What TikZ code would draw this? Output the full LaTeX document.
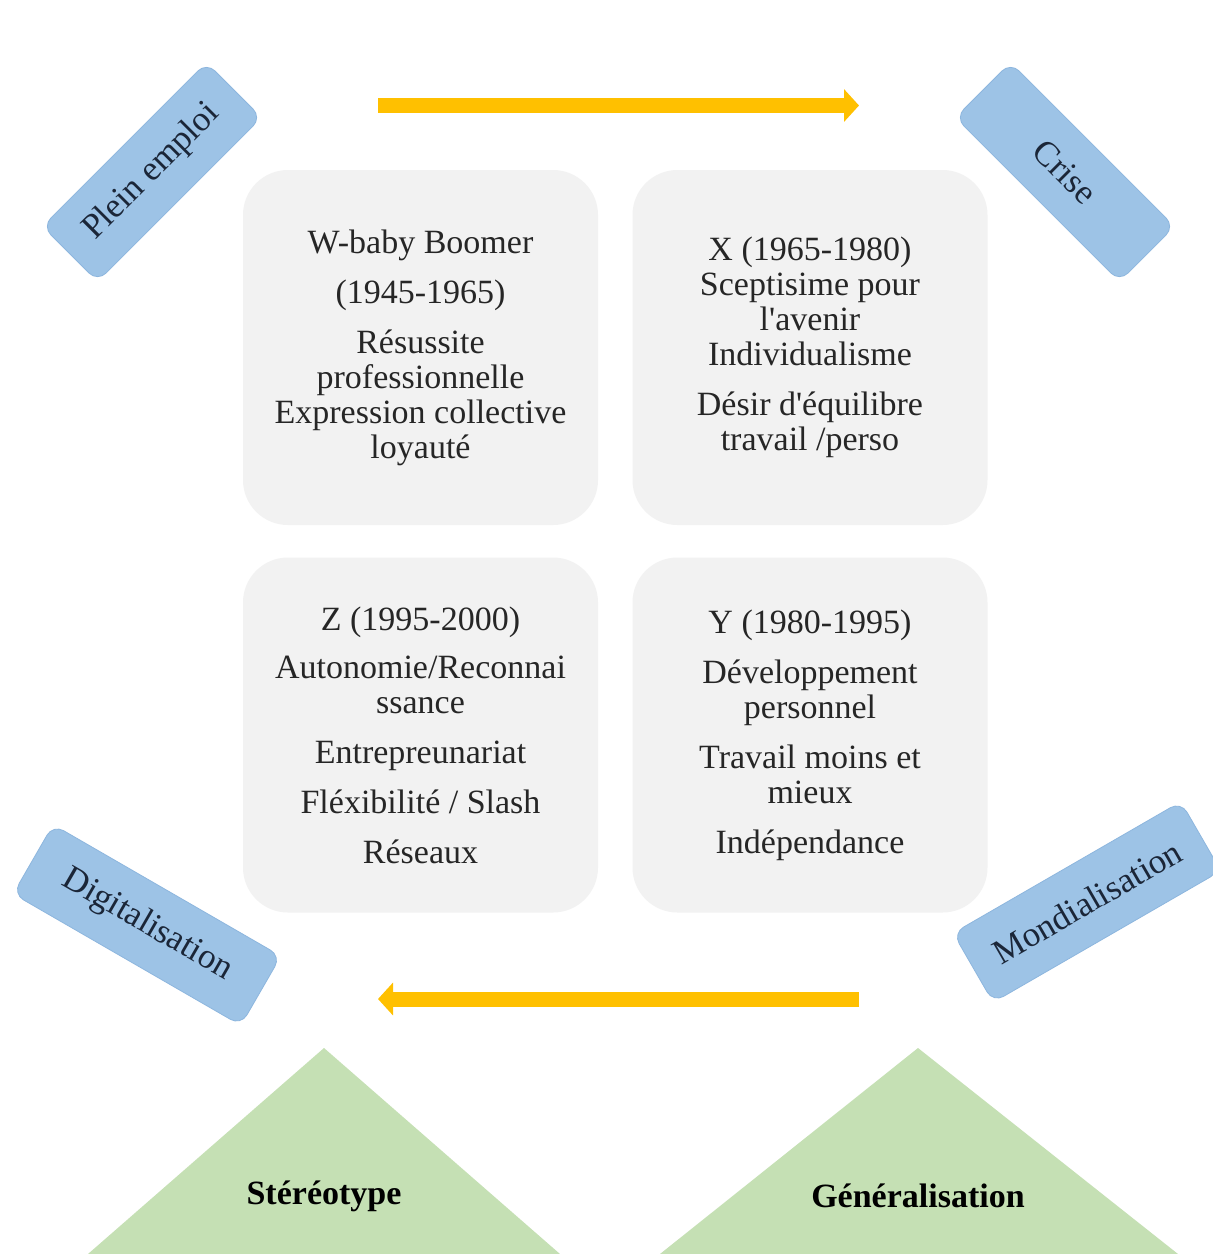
\documentclass[tikz,border=0pt]{standalone}
\usepackage{fontspec}
\setmainfont{Liberation Serif}
\usetikzlibrary{arrows.meta}
\definecolor{genfill}{HTML}{F2F2F2}
\definecolor{contextfill}{HTML}{9DC3E6}
\definecolor{contextdraw}{HTML}{8DB6DE}
\definecolor{flowcol}{HTML}{FFC000}
\definecolor{pyrfill}{HTML}{C5E0B4}
\definecolor{inkcol}{HTML}{262626}
\definecolor{navyink}{HTML}{1B2638}
\tikzset{
  genbox/.style={fill=genfill, draw=none, rounded corners=45pt,
    minimum width=355pt, minimum height=355pt, inner sep=0pt,
    align=center, text=inkcol,
    font=\fontsize{34}{35}\selectfont},
  contextbox/.style={fill=contextfill, draw=contextdraw, line width=0.8pt,
    rounded corners=12pt, inner sep=0pt, text=navyink,
    font=\fontsize{35}{36}\selectfont},
  flow/.style={draw=flowcol, line width=15pt,
    -{Triangle[length=15pt,width=32pt]}},
  pyrlabel/.style={font=\bfseries\fontsize{34}{36}\selectfont, text=black}
}
\begin{document}
\begin{tikzpicture}[x=1pt,y=-1pt]
\useasboundingbox (0,0) rectangle (1213,1254);
\fill[white] (0,0) rectangle (1213,1254);

% bottom pyramids, cut by the lower edge
\begin{scope}
  \clip (0,0) rectangle (1213,1254);
  \fill[pyrfill] (324,1048) -- (88,1254) -- (560,1254) -- cycle;
  \fill[pyrfill] (918,1048) -- (660,1254) -- (1178,1254) -- cycle;
\end{scope}
\node[pyrlabel] (stereo) at (324,1196) {Stéréotype};
\node[pyrlabel] (general) at (918,1196) {Généralisation};

% four generation quadrants
\node[genbox] (genW) at (420.5,347.5) {W-baby Boomer\\[15pt](1945-1965)\\[15pt]Résussite\\professionnelle\\Expression collective\\loyauté};
\node[genbox] (genX) at (810,347.5) {X (1965-1980)\\Sceptisime pour\\l\textquotesingle avenir\\Individualisme\\[15pt]Désir d\textquotesingle équilibre\\travail /perso};
\node[genbox] (genZ) at (420.5,735) {Z (1995-2000)\\[13pt]Autonomie/Reconnai\\ssance\\[15pt]Entrepreunariat\\[15pt]Fléxibilité / Slash\\[15pt]Réseaux};
\node[genbox] (genY) at (810,735) {Y (1980-1995)\\[15pt]Développement\\personnel\\[15pt]Travail moins et\\mieux\\[15pt]Indépendance};

% context labels in the corners
\node[contextbox, minimum width=232pt, minimum height=78pt, rotate=45] (plein) at (152,172) {Plein emploi};
\node[contextbox, minimum width=232pt, minimum height=78pt, rotate=-45] (crise) at (1065,172) {Crise};
\node[contextbox, minimum width=263pt, minimum height=80pt, rotate=-30] (digit) at (147,925) {Digitalisation};
\node[contextbox, minimum width=263pt, minimum height=80pt, rotate=30] (mondi) at (1087,902) {Mondialisation};

% time flow arrows
\coordinate (topL) at (378,105.5);
\coordinate (topR) at (859,105.5);
\coordinate (botR) at (859,999);
\coordinate (botL) at (378,999);
\draw[flow] (topL) -- (topR);
\draw[flow] (botR) -- (botL);
\end{tikzpicture}
\end{document}
